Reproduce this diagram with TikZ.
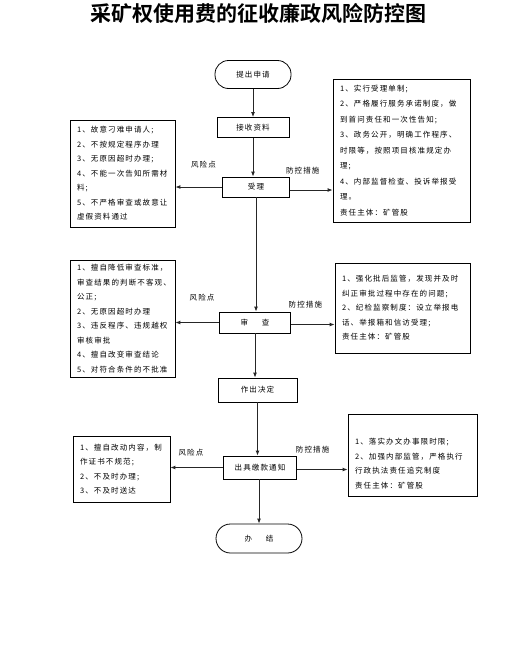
\documentclass[tikz,border=0pt]{standalone}
\usepackage{fontspec}
\usetikzlibrary{arrows.meta}
\newfontfamily\cjk[LetterSpace=15]{Noto Sans CJK SC}
\newfontfamily\cjktitle{Noto Sans CJK SC Bold}

\begin{document}
\begin{tikzpicture}[x=1pt,y=-1pt,>={Latex[length=5pt,width=4pt]}]

\tikzstyle{line}=[draw=black!85, line width=0.9pt]
\tikzstyle{step box}=[draw=black, line width=0.8pt, font=\cjk\fontsize{7.5}{9}\selectfont, inner sep=0pt, minimum height=20pt]
\tikzstyle{end box}=[step box, minimum width=76pt, minimum height=28pt, rounded corners=13.5pt]
\tikzstyle{side box}=[draw=black, line width=0.8pt, align=left, inner xsep=7pt, inner ysep=0pt, font=\cjk\fontsize{7.5}{14.5}\selectfont]
\tikzstyle{tag}=[font=\cjk\fontsize{7.5}{9}\selectfont, inner sep=0pt]

\useasboundingbox (0,0) rectangle (532,664);

\node[font=\cjktitle\fontsize{21}{24}\selectfont] (title) at (258,13) {采矿权使用费的征收廉政风险防控图};

% main flow
\node[end box] (apply) at (253,74.5) {提出申请};
\node[step box, minimum width=72pt] (receive) at (253,127.5) {接收资料};
\node[step box, minimum width=67pt] (accept) at (256,187) {受理};
\node[step box, minimum width=71pt, minimum height=21pt] (review) at (255,322.5) {审\hspace{14pt}查};
\node[step box, minimum width=79pt, minimum height=24pt] (decide) at (257.5,390) {作出决定};
\node[step box, minimum width=73pt, minimum height=23pt] (notice) at (260,467.5) {出具缴款通知};
\node[end box, minimum width=86pt, minimum height=29pt, rounded corners=14.5pt] (done) at (259,538.5) {办\hspace{14pt}结};

% risk points (left)
\node[side box, minimum width=105pt, minimum height=107pt, text width=91pt] (risk1) at (122.5,173.5) {1、故意刁难申请人;\\2、不按规定程序办理\\3、无原因超时办理;\\4、不能一次告知所需材\\料;\\5、不严格审查或故意让\\虚假资料通过};
\node[side box, minimum width=105pt, minimum height=117pt, text width=91pt] (risk2) at (122.5,318.5) {1、擅自降低审查标准，\\审查结果的判断不客观、\\公正;\\2、无原因超时办理\\3、违反程序、违规越权\\审核审批\\4、擅自改变审查结论\\5、对符合条件的不批准};
\node[side box, minimum width=97pt, minimum height=66pt, text width=83pt] (risk3) at (121.5,469) {1、擅自改动内容，制\\作证书不规范;\\2、不及时办理;\\3、不及时送达};

% control measures (right)
\node[side box, minimum width=137pt, minimum height=143pt, text width=123pt, font=\cjk\fontsize{7.5}{15.5}\selectfont] (ctrl1) at (401.5,150.5) {1、实行受理单制;\\2、严格履行服务承诺制度，做\\到首问责任和一次性告知;\\3、政务公开，明确工作程序、\\时限等，按照项目核准规定办\\理;\\4、内部监督检查、投诉举报受\\理。\\责任主体：矿管股};
\node[side box, minimum width=135pt, minimum height=90pt, text width=121pt] (ctrl2) at (402.5,308) {1、强化批后监管，发现并及时\\纠正审批过程中存在的问题;\\2、纪检监察制度：设立举报电\\话、举报箱和信访受理;\\责任主体：矿管股};
\node[side box, minimum width=129pt, minimum height=82pt, text width=115pt] (ctrl3) at (412.5,455) {\rule{0pt}{24pt}1、落实办文办事限时限;\\2、加强内部监管，严格执行\\行政执法责任追究制度\\责任主体：矿管股};

% connectors
\draw[line,->] (apply.south) -- (apply.south |- receive.north);
\draw[line,->] (receive.south) -- (receive.south |- accept.north);
\draw[line,->] (accept.south) -- (accept.south |- review.north);
\draw[line,->] (review.south) -- (review.south |- decide.north);
\draw[line,->] (decide.south) -- (decide.south |- notice.north);
\draw[line,->] (done.north |- notice.south) -- (done.north);

\draw[line,->] (accept.west) -- node[tag, pos=0.4, above=18pt] {风险点} (accept.west -| risk1.east);
\draw[line,->] ([yshift=-3pt]accept.east) -- node[tag, pos=0.3, above=15pt] {防控措施} ([yshift=-3pt]accept.east -| ctrl1.west);
\draw[line,->] (review.west) -- node[tag, pos=0.39, above=21pt] {风险点} (review.west -| risk2.east);
\draw[line,->] ([yshift=-2pt]review.east) -- node[tag, pos=0.33, above=16pt] {防控措施} ([yshift=-2pt]review.east -| ctrl2.west);
\draw[line,->] (notice.west) -- node[tag, pos=0.61, above=11pt] {风险点} (notice.west -| risk3.east);
\draw[line,->] ([yshift=-2pt]notice.east) -- node[tag, pos=0.31, above=16pt] {防控措施} ([yshift=-2pt]notice.east -| ctrl3.west);

\end{tikzpicture}
\end{document}
